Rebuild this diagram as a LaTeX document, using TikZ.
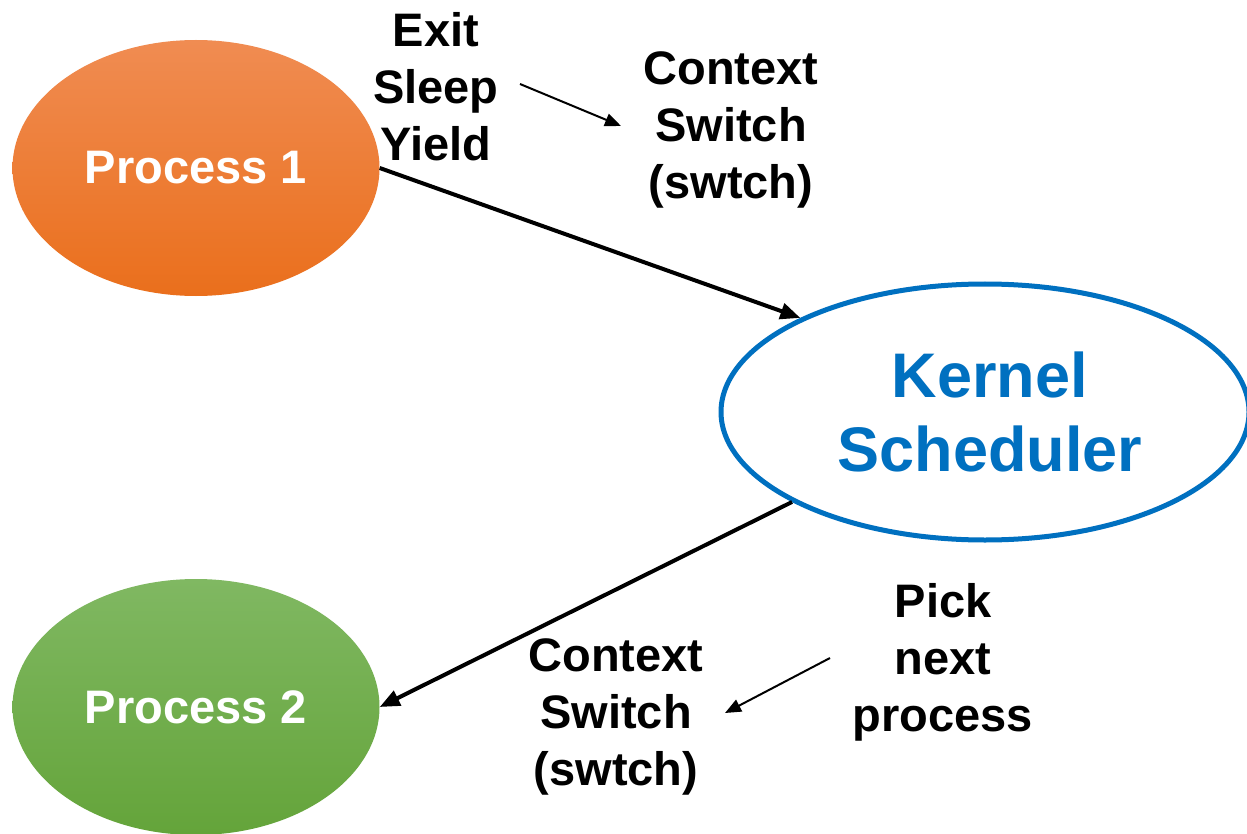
\documentclass[tikz,border=0pt]{standalone}
\usepackage{fontspec}
\setmainfont{Liberation Sans}
\usetikzlibrary{shapes.geometric,arrows.meta}
\definecolor{orangetop}{HTML}{F08C52}
\definecolor{orangebot}{HTML}{EA6F1C}
\definecolor{greentop}{HTML}{80B862}
\definecolor{greenbot}{HTML}{64A43A}
\definecolor{kblue}{HTML}{0070C0}
\tikzset{
  proc/.style={ellipse, minimum width=367pt, minimum height=256pt, inner sep=0pt,
    text=white, font=\fontsize{47}{57}\selectfont\bfseries},
  kernel/.style={ellipse, draw=kblue, line width=5pt, minimum width=528pt,
    minimum height=256pt, inner sep=0pt, text=kblue, align=center,
    font=\fontsize{63}{76}\selectfont\bfseries},
  lbl/.style={align=center, inner sep=0pt, font=\fontsize{47}{57}\selectfont\bfseries},
  mainarrow/.style={line width=4pt, -{Triangle[length=20pt,width=16pt]}},
  thinarrow/.style={line width=2pt, -{Triangle[length=16pt,width=13pt]}}
}
\begin{document}
\begin{tikzpicture}[x=1pt,y=-1pt]
\useasboundingbox (0,0) rectangle (1247,834);
\fill[white] (0,0) rectangle (1247,834);

% processes and scheduler
\node[proc, top color=orangetop, bottom color=orangebot] (p1) at (196,168) {\raisebox{-2pt}{Process 1}};
\node[proc, top color=greentop, bottom color=greenbot] (p2) at (196,707) {\raisebox{-3pt}{Process 2}};
\node[kernel] (kern) at (985,412) {\hspace*{10pt}Kernel\\[-2pt]\hspace*{10pt}Scheduler};

% transitions
\draw[mainarrow] (p1.east) -- (kern.153);
\draw[mainarrow] (kern.205) -- (p2.east);

% annotations
\node[lbl] (why) at (436,87) {Exit\\Sleep\\Yield};
\node[lbl] (cs1) at (731,130) {Context\\Switch\\(swtch)};
\node[lbl] (pick) at (943,662) {Pick\\next\\process};
\node[lbl] (cs2) at (616,717) {Context\\Switch\\(swtch)};

\coordinate (a1s) at (520,84);
\coordinate (a1e) at (621,126);
\coordinate (a2s) at (830,658);
\coordinate (a2e) at (725,713);
\draw[thinarrow] (a1s) -- (a1e);
\draw[thinarrow] (a2s) -- (a2e);
\end{tikzpicture}
\end{document}
